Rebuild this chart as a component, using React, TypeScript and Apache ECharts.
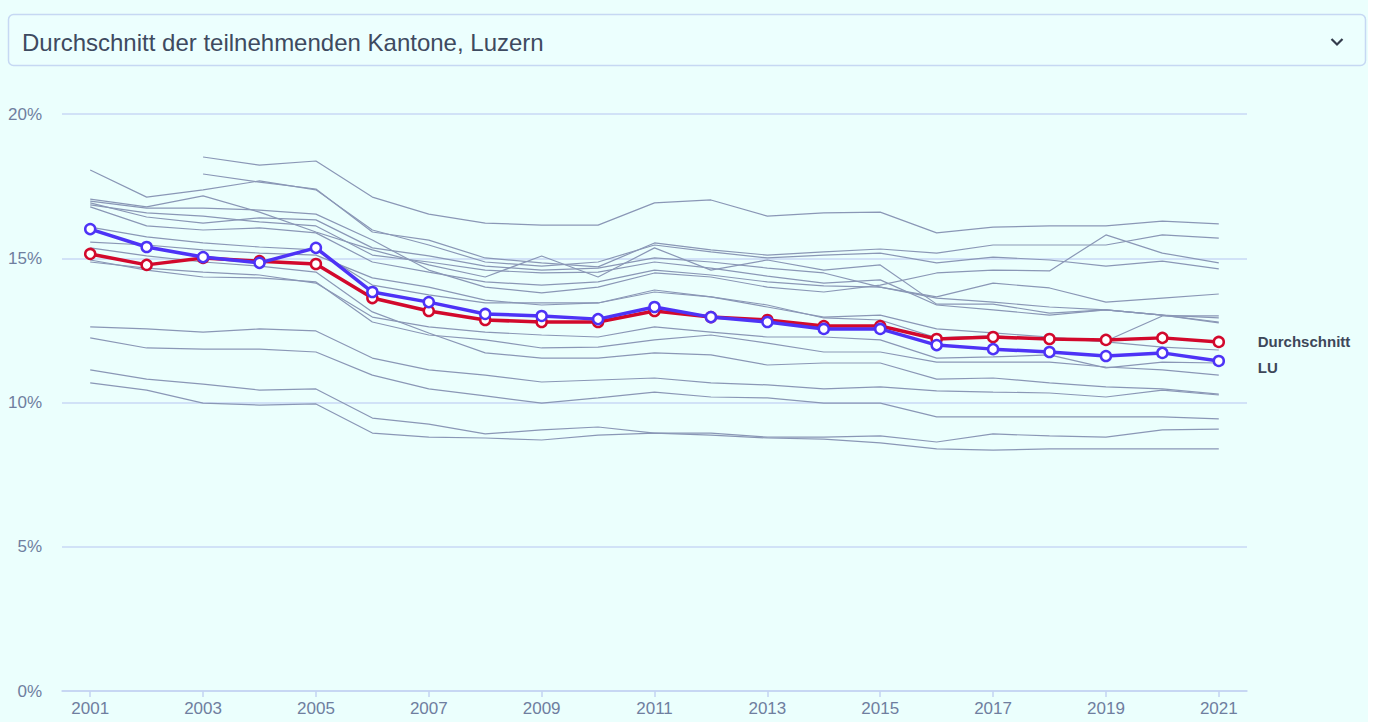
import React, { useEffect, useRef } from 'react';
import * as echarts from 'echarts';

const years = ['2001', '2002', '2003', '2004', '2005', '2006', '2007', '2008', '2009', '2010', '2011', '2012', '2013', '2014', '2015', '2016', '2017', '2018', '2019', '2020', '2021'];

const yTicks = [0, 5, 10, 15, 20];

const durchschnitt = [15.15, 14.77, 15.01, 14.9, 14.8, 13.62, 13.17, 12.86, 12.79, 12.79, 13.17, 12.96, 12.86, 12.65, 12.65, 12.2, 12.27, 12.2, 12.17, 12.24, 12.1];
const luzern = [16.01, 15.39, 15.04, 14.84, 15.36, 13.83, 13.48, 13.07, 13.0, 12.89, 13.31, 12.96, 12.79, 12.55, 12.55, 11.99, 11.85, 11.75, 11.61, 11.72, 11.44];

const kantonA = [null, null, 18.51, 18.23, 18.37, 17.12, 16.53, 16.22, 16.15, 16.15, 16.92, 17.02, 16.46, 16.57, 16.6, 15.88, 16.08, 16.12, 16.12, 16.29, 16.19];
const kantonB = [null, null, 17.92, 17.64, 17.4, 15.91, 15.63, 15.01, 14.84, 14.7, 15.53, 15.29, 15.11, 15.22, 15.32, 15.18, 15.46, 15.46, 15.46, 15.81, 15.7];
const kantonC = [18.06, 17.12, 17.37, 17.68, 17.37, 15.98, 15.46, 14.87, 14.73, 14.87, 15.46, 15.22, 15.01, 15.11, 15.18, 14.84, 15.04, 14.94, 14.73, 14.9, 14.63];
const kantonD = [17.05, 16.78, 17.16, 16.6, 15.91, 15.29, 14.77, 14.35, 15.08, 14.35, 15.36, 14.59, 14.94, 14.59, 14.77, 13.41, 13.41, 13.1, 13.21, 13.03, 12.93];
const kantonE = [16.98, 16.74, 16.74, 16.67, 16.53, 15.63, 14.59, 14.0, 13.8, 14.0, 14.49, 14.35, 14.0, 13.83, 14.07, 14.49, 14.59, 14.56, 15.81, 15.18, 14.84];
const kantonF = [16.92, 16.43, 16.22, 16.4, 16.33, 15.36, 15.08, 14.73, 14.59, 14.66, 15.01, 14.87, 14.66, 14.49, 14.0, 13.66, 14.14, 13.97, 13.48, 13.62, 13.76];
const kantonG = [16.78, 16.12, 15.98, 16.05, 15.88, 14.87, 14.52, 14.18, 14.07, 14.18, 14.59, 14.42, 14.18, 14.04, 14.0, 13.62, 13.48, 13.31, 13.21, 13.03, 12.79];
const kantonH = [16.85, 16.57, 16.46, 16.26, 16.12, 15.11, 14.87, 14.59, 14.49, 14.52, 14.87, 14.66, 14.38, 14.14, 14.25, 13.38, 13.21, 13.03, 13.21, 13.03, 12.76];
const kantonI = [16.08, 15.74, 15.53, 15.39, 15.29, 14.07, 13.73, 13.45, 13.45, 13.45, 13.83, 13.66, 13.31, 12.96, 13.03, 12.55, 12.41, 12.27, 12.1, 11.92, 11.82];
const kantonJ = [15.56, 15.46, 15.29, 15.18, 15.11, 14.32, 14.0, 13.55, 13.38, 13.45, 13.9, 13.66, 13.38, 12.93, 12.86, 12.24, 12.31, 12.2, 12.13, 13.0, 13.0];
const kantonK = [14.87, 14.66, 14.52, 14.42, 14.14, 12.96, 12.62, 12.44, 12.34, 12.27, 12.62, 12.44, 12.27, 12.27, 12.17, 11.54, 11.58, 11.65, 11.2, 11.4, 11.37];
const kantonL = [14.94, 14.59, 14.35, 14.32, 14.18, 12.79, 12.34, 12.17, 11.89, 11.92, 12.17, 12.34, 12.06, 11.75, 11.75, 11.4, 11.4, 11.4, 11.23, 11.13, 10.95];
const kantonM = [15.36, 15.08, 14.87, 14.73, 14.52, 13.14, 12.41, 11.72, 11.54, 11.54, 11.72, 11.65, 11.3, 11.37, 11.37, 10.81, 10.85, 10.68, 10.54, 10.47, 10.29];
const kantonN = [12.62, 12.55, 12.44, 12.55, 12.48, 11.54, 11.13, 10.95, 10.71, 10.78, 10.85, 10.68, 10.61, 10.47, 10.54, 10.4, 10.36, 10.33, 10.19, 10.43, 10.26];
const kantonO = [12.24, 11.89, 11.85, 11.85, 11.75, 10.95, 10.47, 10.23, 9.98, 10.16, 10.36, 10.19, 10.16, 9.98, 9.98, 9.5, 9.5, 9.5, 9.5, 9.5, 9.43];
const kantonP = [11.13, 10.81, 10.64, 10.43, 10.47, 9.46, 9.25, 8.91, 9.05, 9.15, 8.94, 8.94, 8.8, 8.8, 8.84, 8.63, 8.91, 8.84, 8.8, 9.05, 9.08];
const kantonQ = [10.68, 10.43, 9.98, 9.91, 9.95, 8.94, 8.8, 8.77, 8.7, 8.87, 8.94, 8.87, 8.77, 8.73, 8.6, 8.39, 8.35, 8.39, 8.39, 8.39, 8.39];

const kantone = [kantonA, kantonB, kantonC, kantonD, kantonE, kantonF, kantonG, kantonH, kantonI, kantonJ, kantonK, kantonL, kantonM, kantonN, kantonO, kantonP, kantonQ];

const selectText = 'Durchschnitt der teilnehmenden Kantone, Luzern';
const labelAvg = 'Durchschnitt';
const labelLU = 'LU';

const FONT = '"Liberation Sans", Arial, Helvetica, sans-serif';

export default function App() {
  const ref = useRef<HTMLDivElement>(null);

  useEffect(() => {
    if (!ref.current) return;
    const chart = echarts.init(ref.current, null, { renderer: 'svg' });

    const greySeries = kantone.map((d, i) => ({
      name: 'Kanton ' + (i + 1),
      type: 'line',
      data: d,
      symbol: 'none',
      silent: true,
      z: 1,
      lineStyle: { color: '#8a97b6', width: 1.2 },
    }));

    const option: any = {
      animation: false,
      backgroundColor: '#ebfffd',
      textStyle: { fontFamily: FONT },
      grid: { left: 62, right: 121, top: 114, bottom: 31, containLabel: false },
      xAxis: {
        type: 'category',
        data: years,
        boundaryGap: true,
        axisLine: { lineStyle: { color: '#c3d3f2', width: 1.5 } },
        axisTick: { show: true, interval: 1, alignWithLabel: true, length: 6, lineStyle: { color: '#c3d3f2', width: 1.5 } },
        axisLabel: { interval: 1, color: '#6f7e9f', fontSize: 17, margin: 9, fontFamily: FONT },
        splitLine: { show: false },
      },
      yAxis: {
        type: 'value',
        min: yTicks[0],
        max: yTicks[yTicks.length - 1],
        interval: 5,
        axisLine: { show: false },
        axisTick: { show: false },
        axisLabel: { color: '#6f7e9f', fontSize: 17, margin: 20, formatter: '{value}%', fontFamily: FONT },
        splitLine: { lineStyle: { color: '#c9d8f4', width: 1.5 } },
      },
      graphic: [
        {
          type: 'rect',
          shape: { x: 8.5, y: 14.5, width: 1357, height: 51, r: 5 },
          style: { fill: '#ecfffe', stroke: '#c6d8f3', lineWidth: 1.5 },
          silent: true,
        },
        {
          type: 'text',
          x: 22,
          y: 42,
          style: { text: selectText, fill: '#3e4a60', font: '24px ' + FONT, verticalAlign: 'middle' },
          silent: true,
        },
        {
          type: 'polyline',
          shape: { points: [[1331.5, 39], [1337, 44.5], [1342.5, 39]] },
          style: { stroke: '#343c4c', lineWidth: 2.2, fill: 'none' },
          silent: true,
        },
      ],
      series: [
        ...greySeries,
        {
          name: labelAvg,
          type: 'line',
          data: durchschnitt,
          z: 5,
          symbol: 'circle',
          symbolSize: 10,
          showAllSymbol: true,
          lineStyle: { color: '#d2092c', width: 3.5 },
          itemStyle: { color: '#ffffff', borderColor: '#d2092c', borderWidth: 2.5 },
          endLabel: { show: true, formatter: labelAvg, distance: 39, color: '#3d4759', fontSize: 15, fontWeight: 'bold', fontFamily: FONT },
        },
        {
          name: labelLU,
          type: 'line',
          data: luzern,
          z: 6,
          symbol: 'circle',
          symbolSize: 10,
          showAllSymbol: true,
          lineStyle: { color: '#4d33f6', width: 3.5 },
          itemStyle: { color: '#ffffff', borderColor: '#4d33f6', borderWidth: 2.5 },
          endLabel: { show: true, formatter: labelLU, distance: 39, offset: [0, 7], color: '#3d4759', fontSize: 15, fontWeight: 'bold', fontFamily: FONT },
        },
      ],
    };

    chart.setOption(option);
    return () => chart.dispose();
  }, []);

  return (
    <div
      ref={ref}
      style={{ position: 'fixed', left: 0, top: 0, width: 1368, height: 722 }}
    />
  );
}
